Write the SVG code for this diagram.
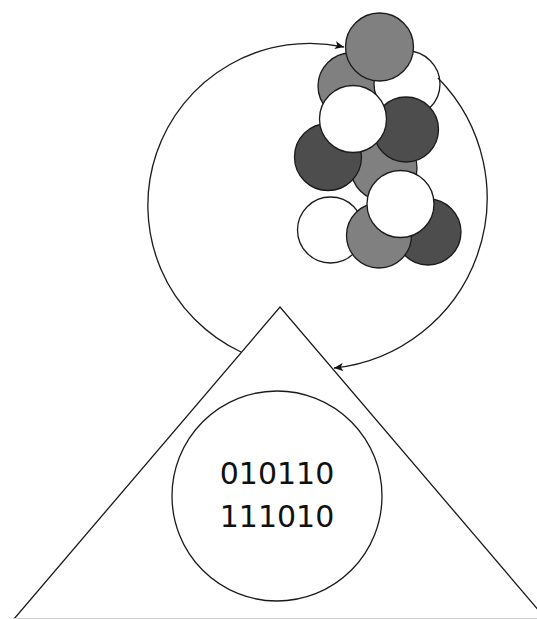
<svg xmlns="http://www.w3.org/2000/svg" width="537" height="619" viewBox="0 0 537 619">
  <style>
    .ln { fill: none; stroke: #1a1a1a; stroke-width: 1.3; }
    .ball { stroke: #1a1a1a; stroke-width: 1.3; }
    .w { fill: #ffffff; }
    .g { fill: #808080; }
    .d { fill: #4d4d4d; }
    .bits { font-family: "DejaVu Sans", "Liberation Sans", sans-serif; font-size: 30px; fill: #111; text-anchor: middle; }
  </style>
  <defs>
    <marker id="arrow" viewBox="0 0 9 8" refX="9" refY="4" markerWidth="9" markerHeight="8" markerUnits="userSpaceOnUse" orient="auto">
      <path d="M0,0 L9,4 L0,8 L2.2,4 z" fill="#111"/>
    </marker>
  </defs>
  <rect width="537" height="619" fill="#ffffff"/>

  <!-- cluster of balls, back to front -->
  <g id="cluster">
    <circle class="ball g" cx="351" cy="86" r="33"/>
    <circle class="ball w" cx="407" cy="84" r="33"/>
    <circle class="ball g" cx="379.5" cy="47" r="34"/>
    <circle class="ball g" cx="384" cy="168" r="33"/>
    <circle class="ball d" cx="328" cy="157" r="33.5"/>
    <circle class="ball d" cx="406" cy="129.5" r="32.5"/>
    <circle class="ball w" cx="353" cy="119" r="33.5"/>
    <circle class="ball w" cx="330.5" cy="230" r="33"/>
    <circle class="ball d" cx="428" cy="232" r="33"/>
    <circle class="ball g" cx="379" cy="235.5" r="32.5"/>
    <circle class="ball w" cx="400.5" cy="204" r="33.5"/>
  </g>

  <!-- triangle with the encoded circle -->
  <g id="triangle">
    <polyline class="ln" points="14,619 280,307 546,619"/>
    <line x1="14" y1="618.5" x2="537" y2="618.5" stroke="#d0d0d0" stroke-width="1"/>
  </g>
  <g id="code">
    <circle class="ln" cx="277" cy="496" r="105"/>
    <text class="bits" x="277" y="484">010110</text>
    <text class="bits" x="277" y="527">111010</text>
  </g>

  <!-- curved connectors -->
  <g id="connectors">
    <path class="ln" d="M241,352 A162,162 0 0 1 344,47" marker-end="url(#arrow)"/>
    <path class="ln" d="M438,78 A171,171 0 0 1 334,368" marker-end="url(#arrow)"/>
  </g>
</svg>
